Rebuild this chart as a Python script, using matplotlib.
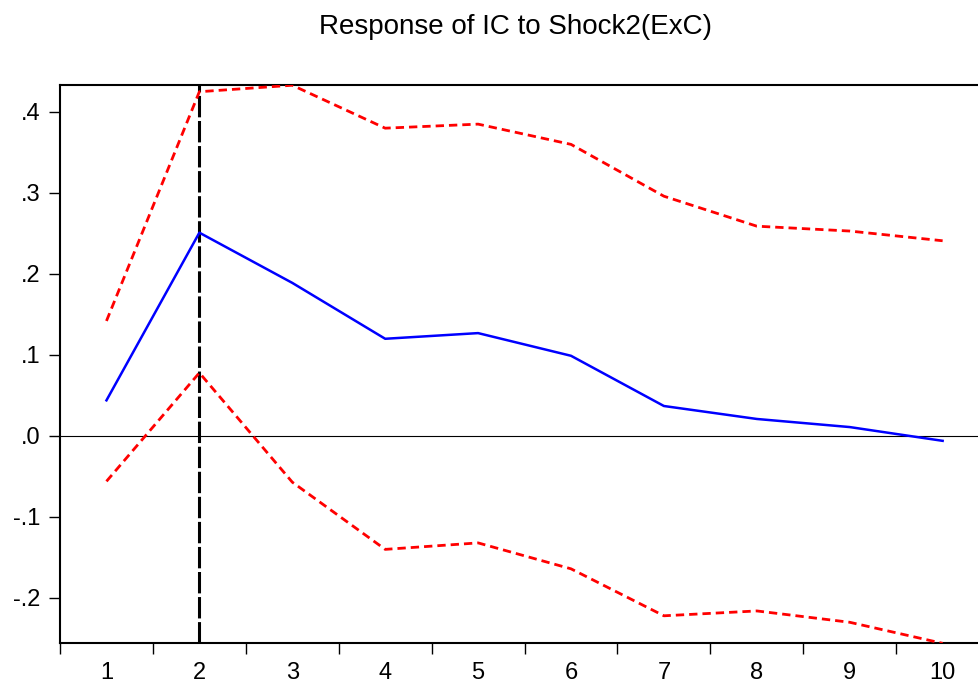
import matplotlib
matplotlib.use("Agg")
import matplotlib.pyplot as plt
import numpy as np

plt.rcParams["font.family"] = ["Liberation Sans", "DejaVu Sans"]

periods = np.arange(1, 11)
response = [0.044, 0.251, 0.189, 0.120, 0.127, 0.099, 0.037, 0.021, 0.011, -0.006]
upper_band = [0.142, 0.425, 0.433, 0.380, 0.385, 0.360, 0.296, 0.259, 0.253, 0.241]
lower_band = [-0.056, 0.078, -0.057, -0.140, -0.132, -0.164, -0.222, -0.216, -0.230, -0.256]
y_ticks = [-0.2, -0.1, 0.0, 0.1, 0.2, 0.3, 0.4]
y_tick_labels = ["-.2", "-.1", ".0", ".1", ".2", ".3", ".4"]
marked_period = 2
title = "Response of IC to Shock2(ExC)"

fig = plt.figure(figsize=(9.79, 6.84), dpi=100)
ax = fig.add_axes([0.0613, 0.0604, 0.949, 0.8158])

ax.axhline(0, color="black", linewidth=0.8, zorder=1)
ax.axvline(marked_period, color="black", linewidth=2.2, dashes=(7, 1.2), zorder=2)
ax.plot(periods, response, color="#0000ff", linewidth=1.8, zorder=3)
ax.plot(periods, upper_band, color="#ff0000", linewidth=2.0, dashes=(3, 1.8), zorder=3)
ax.plot(periods, lower_band, color="#ff0000", linewidth=2.0, dashes=(3, 1.8), zorder=3)

ax.set_xlim(0.5, 10.5)
ax.set_ylim(-0.2552, 0.4337)

ax.set_xticks(periods)
ax.set_xticklabels([str(p) for p in periods])
ax.set_xticks(np.arange(0.5, 10.6, 1.0), minor=True)
ax.tick_params(axis="x", which="major", length=0, labelsize=17, pad=14)
ax.tick_params(axis="x", which="minor", length=8, width=1, direction="out")
ax.set_yticks(y_ticks)
ax.set_yticklabels(y_tick_labels)
ax.tick_params(axis="y", length=8, width=1, direction="out", labelsize=17, pad=6)

for spine in ax.spines.values():
    spine.set_linewidth(1.5)

fig.text(0.527, 0.9605, title, ha="center", va="center", fontsize=20)

fig.savefig("out.png", dpi=100)
